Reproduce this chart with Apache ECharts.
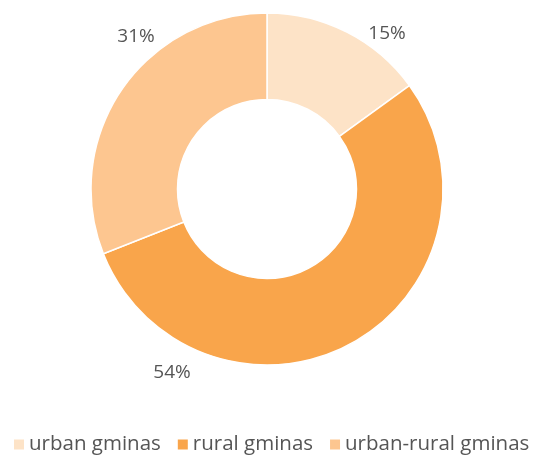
<!DOCTYPE html>
<html>
<head>
<meta charset="utf-8">
<script src="https://cdn.jsdelivr.net/npm/echarts@6/dist/echarts.min.js"></script>
<style>html,body{margin:0;padding:0;background:#fff}#c{width:534px;height:455px}</style>
</head>
<body>
<div id="c"></div>
<script>
const categories = ['urban gminas', 'rural gminas', 'urban-rural gminas'];
const values = [15, 54, 31];
const colors = ['#FDE3C7', '#F9A54B', '#FDC690'];
// label anchor points (px) for each slice's percentage label
const labelX = [387, 172, 136];
const labelY = [34, 373, 37];

const chart = echarts.init(document.getElementById('c'));
chart.setOption({
  animation: false,
  color: colors,
  textStyle: { fontFamily: 'Open Sans' },
  legend: {
    bottom: 0,
    left: 14,
    width: 600,
    icon: 'rect',
    itemWidth: 10,
    itemHeight: 10,
    itemGap: 17,
    padding: 0,
    itemStyle: { borderWidth: 0 },
    textStyle: { fontSize: 20.5, color: '#555', fontFamily: 'Open Sans' },
    data: categories
  },
  series: [{
    type: 'pie',
    center: [267, 189],
    radius: [89.5, 176],
    startAngle: 90,
    clockwise: true,
    itemStyle: { borderColor: '#fff', borderWidth: 1.5 },
    label: {
      show: true,
      formatter: '{c}%',
      fontSize: 19,
      color: '#555',
      fontFamily: 'Open Sans'
    },
    labelLine: { show: false },
    labelLayout: function (p) {
      return { x: labelX[p.dataIndex], y: labelY[p.dataIndex], align: 'center', verticalAlign: 'middle' };
    },
    emphasis: { disabled: true },
    data: categories.map((c, i) => ({ name: c, value: values[i] }))
  }]
});
</script>
</body>
</html>
